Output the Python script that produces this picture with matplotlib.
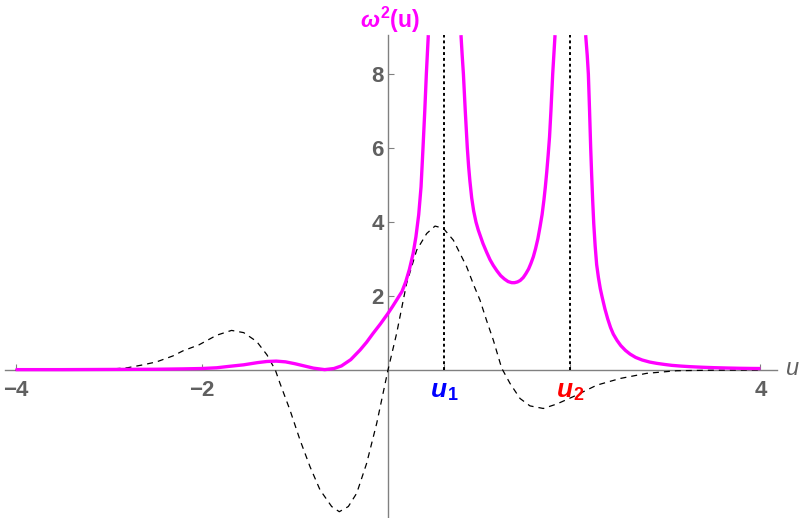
import numpy as np
import matplotlib
import matplotlib.pyplot as plt

matplotlib.rcParams['font.family'] = "Liberation Sans"
matplotlib.rcParams['mathtext.fontset'] = 'custom'
matplotlib.rcParams['mathtext.it'] = 'Liberation Sans:italic:bold'
matplotlib.rcParams['mathtext.rm'] = 'Liberation Sans:bold'
matplotlib.rcParams['mathtext.bf'] = 'Liberation Sans:bold'

# positions of the two singular points
u1 = 0.605
u2 = 1.955

# omega^2(u), three branches (clipped at the top)
u_a = [-4.0, -3.5, -3.0, -2.5, -2.2, -2.0, -1.84, -1.7, -1.55, -1.4, -1.3, -1.2,
       -1.1, -1.0, -0.9, -0.8, -0.68, -0.58, -0.5, -0.4, -0.3, -0.23, -0.16,
       -0.08, 0.0, 0.05, 0.10, 0.15, 0.19, 0.23, 0.27, 0.30, 0.33, 0.355, 0.376,
       0.395, 0.412, 0.422, 0.433]
w_a = [0.01, 0.01, 0.015, 0.02, 0.03, 0.04, 0.06, 0.10, 0.14, 0.20, 0.23, 0.24,
       0.22, 0.17, 0.11, 0.05, 0.01, 0.04, 0.11, 0.28, 0.54, 0.75, 0.99,
       1.25, 1.53, 1.72, 1.92, 2.12, 2.38, 2.72, 3.15, 3.60, 4.20, 4.95, 6.00,
       7.00, 8.00, 8.50, 9.05]

u_b = [0.784, 0.797, 0.81, 0.83, 0.852, 0.866, 0.88, 0.899, 0.92, 0.945, 0.97,
       0.988, 1.02, 1.06, 1.096, 1.13, 1.17, 1.21, 1.25, 1.29, 1.329, 1.36,
       1.39, 1.42, 1.453, 1.48, 1.51, 1.535, 1.561, 1.585, 1.61, 1.633, 1.655,
       1.675, 1.69, 1.705, 1.72, 1.735, 1.75, 1.769, 1.794]
w_b = [9.05, 8.50, 8.00, 7.00, 6.00, 5.50, 5.10, 4.65, 4.30, 4.00, 3.78,
       3.65, 3.42, 3.18, 2.98, 2.83, 2.68, 2.55, 2.46, 2.39, 2.36, 2.36,
       2.38, 2.42, 2.50, 2.60, 2.73, 2.88, 3.06, 3.28, 3.55, 3.87, 4.20,
       4.60, 4.95, 5.35, 5.80, 6.30, 7.00, 8.00, 9.05]

u_c = [2.123, 2.14, 2.152, 2.165, 2.177, 2.187, 2.198, 2.21, 2.225, 2.241, 2.26,
       2.28, 2.30, 2.33, 2.36, 2.39, 2.42, 2.46, 2.50, 2.55, 2.60, 2.66, 2.73,
       2.81, 2.886, 2.97, 3.05, 3.15, 3.244, 3.37, 3.5, 3.65, 3.78, 3.9, 4.0]
w_c = [9.05, 8.50, 8.00, 7.00, 6.00, 5.30, 4.60, 3.95, 3.35, 2.85, 2.50,
       2.20, 1.97, 1.65, 1.38, 1.15, 0.97, 0.80, 0.66, 0.53, 0.43, 0.34, 0.27,
       0.215, 0.18, 0.15, 0.125, 0.105, 0.09, 0.075, 0.063, 0.053, 0.046, 0.042, 0.04]

# dashed reference curve
u_d = [-4.0, -3.5, -3.0, -2.8, -2.63, -2.485, -2.31, -2.2, -2.03, -1.84, -1.68,
       -1.55, -1.41, -1.30, -1.25, -1.21, -1.16, -1.053, -0.945, -0.838, -0.73,
       -0.605, -0.523, -0.426, -0.336, -0.229, -0.121, 0.0, 0.093, 0.2, 0.308,
       0.416, 0.505, 0.594, 0.702, 0.845, 0.92, 0.988, 1.06, 1.131, 1.221, 1.31,
       1.418, 1.525, 1.668, 1.812, 1.99, 2.242, 2.492, 2.779, 3.1, 3.5, 4.0]
y_d = [0.0, 0.005, 0.02, 0.06, 0.14, 0.22, 0.38, 0.52, 0.68, 0.94, 1.07,
       1.01, 0.77, 0.41, 0.18, 0.0, -0.36, -1.08, -1.89, -2.61, -3.24,
       -3.69, -3.83, -3.69, -3.33, -2.52, -1.44, 0.0, 0.99, 2.34, 3.24,
       3.69, 3.89, 3.83, 3.51, 2.79, 2.30, 1.89, 1.33, 0.81, 0.05, -0.36,
       -0.77, -0.97, -1.04, -0.92, -0.72, -0.41, -0.23, -0.09, -0.02, -0.005, 0.0]

xticks = [-4, -2, u1, u2, 4]
xlabels = ['\u22124', '\u22122', '', '', '4']
yticks = [2, 4, 6, 8]
marks = [(u1, '1', '#0000FF'), (u2, '2', '#FF0000')]

fig = plt.figure(figsize=(8, 5.18), dpi=100)
ax = fig.add_axes([0, 0, 1, 1])

magenta = '#FF00FF'
ax.plot(u_a, w_a, color=magenta, lw=2.4, solid_capstyle='butt', zorder=3)
ax.plot(u_b, w_b, color=magenta, lw=2.4, solid_capstyle='butt', zorder=3)
ax.plot(u_c, w_c, color=magenta, lw=2.4, solid_capstyle='butt', zorder=3)
ax.plot(u_d, y_d, color='black', lw=0.9, dashes=(4.8, 4.0), zorder=2)

ax.vlines([u1, u2], 0, 9.05, colors='black', lw=1.4, linestyles=(0, (1.5, 1.5)), zorder=2)

ax.set_xlim(-4.167, 4.425)
ax.set_ylim(-4.0, 10.0)

for s in ['top', 'right']:
    ax.spines[s].set_visible(False)
ax.spines['left'].set_position(('data', 0))
ax.spines['bottom'].set_position(('data', 0))
ax.spines['left'].set_bounds(-4.0, 9.05)
ax.spines['bottom'].set_bounds(-4.11, 4.18)
for s in ['left', 'bottom']:
    ax.spines[s].set_color('#808080')
    ax.spines[s].set_linewidth(1.0)
    ax.spines[s].set_zorder(1)

ax.set_xticks(xticks)
ax.set_xticklabels(xlabels, fontsize=16, fontweight='bold', color='#606060')
ax.set_yticks(yticks)
ax.set_yticklabels([str(v) for v in yticks], fontsize=16, fontweight='bold', color='#606060')
ax.tick_params(axis='x', direction='in', length=4, width=0.8, color='#808080', pad=7)
ax.tick_params(axis='y', direction='in', length=4, width=0.8, color='#808080', pad=3)

# u_1, u_2 labels under the axis
for pos, sub, col in marks:
    ax.text(pos + 0.03, -0.73, 'u', color=col, fontsize=19, fontweight='bold',
            fontstyle='italic', ha='right', va='baseline')
    ax.text(pos + 0.035, -0.82, sub, color=col, fontsize=13, fontweight='bold',
            ha='left', va='baseline')

ax.text(0.02, 9.47, r'$\omega^2$(u)', color=magenta, fontsize=16.5, fontweight='bold',
        ha='center', va='center')
ax.text(4.34, 0.05, 'u', color='#606060', fontsize=17, fontstyle='italic',
        ha='center', va='center')

plt.savefig("out.png", dpi=100)
